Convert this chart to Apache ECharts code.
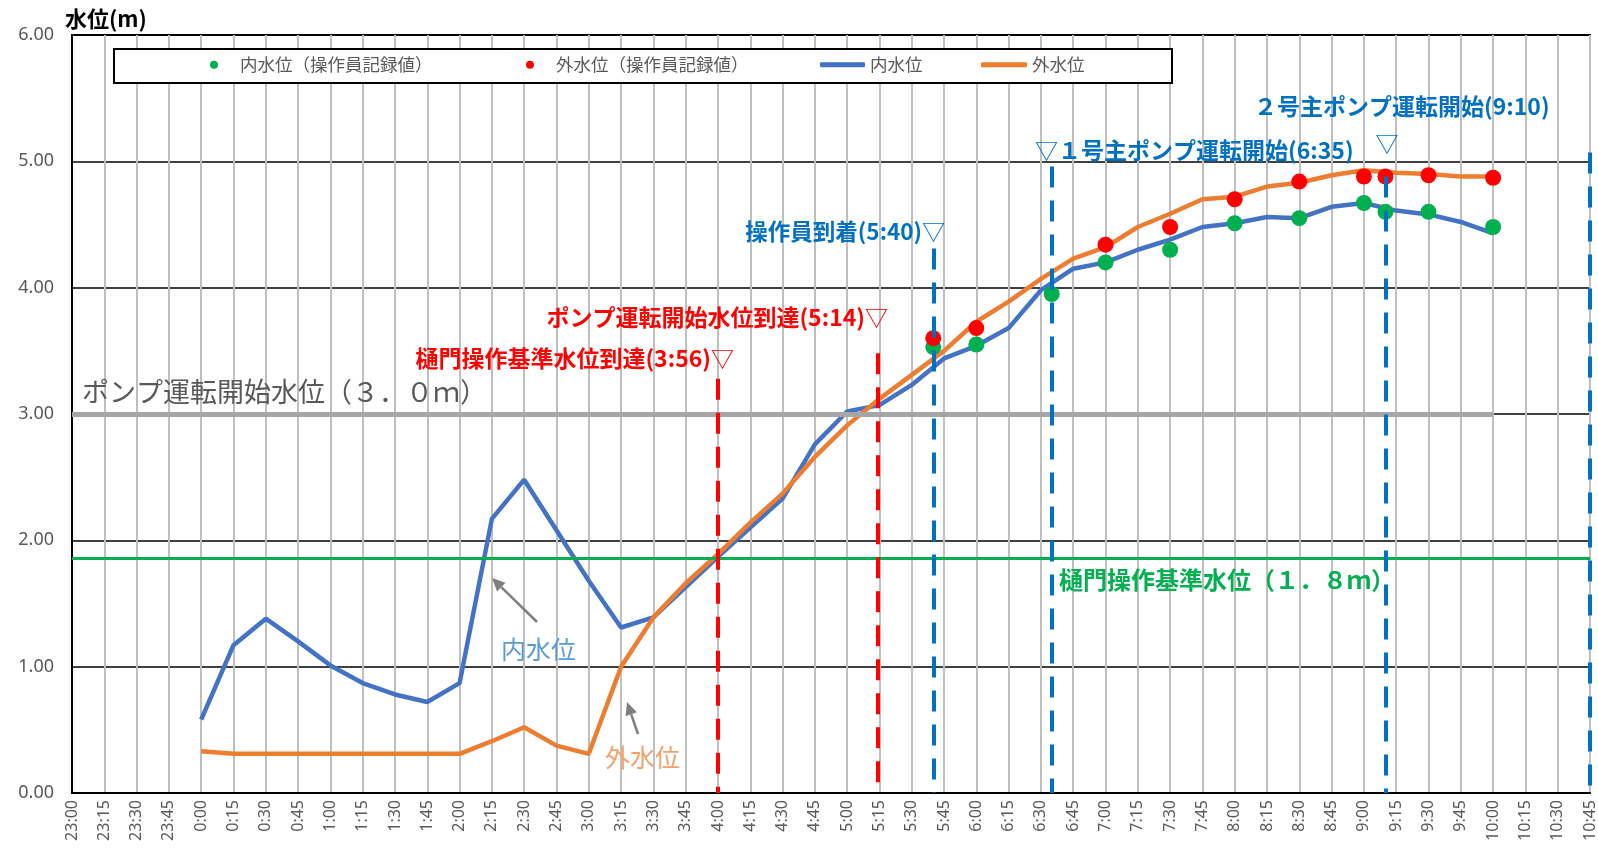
<!DOCTYPE html>
<html>
<head>
<meta charset="utf-8">
<script src="https://cdn.jsdelivr.net/npm/echarts@6/dist/echarts.min.js"></script>
<style>
html,body{margin:0;padding:0;background:#fff;}
#c{width:1598px;height:849px;}
</style>
</head>
<body>
<div id="c"></div>
<script>
// ---- data ----
const timeLabels = ['23:00','23:15','23:30','23:45','0:00','0:15','0:30','0:45','1:00','1:15','1:30','1:45','2:00','2:15','2:30','2:45','3:00','3:15','3:30','3:45','4:00','4:15','4:30','4:45','5:00','5:15','5:30','5:45','6:00','6:15','6:30','6:45','7:00','7:15','7:30','7:45','8:00','8:15','8:30','8:45','9:00','9:15','9:30','9:45','10:00','10:15','10:30','10:45'];
const lineTimes = ['0:00','0:15','0:30','0:45','1:00','1:15','1:30','1:45','2:00','2:15','2:30','2:45','3:00','3:15','3:30','3:45','4:00','4:15','4:30','4:45','5:00','5:15','5:30','5:45','6:00','6:15','6:30','6:45','7:00','7:15','7:30','7:45','8:00','8:15','8:30','8:45','9:00','9:15','9:30','9:45','10:00'];
const innerLevel = [0.58,1.17,1.38,1.20,1.01,0.87,0.78,0.72,0.87,2.17,2.48,2.08,1.68,1.31,1.39,1.63,1.87,2.10,2.33,2.76,3.02,3.07,3.23,3.44,3.54,3.68,3.98,4.15,4.20,4.30,4.38,4.48,4.51,4.56,4.55,4.64,4.67,4.61,4.58,4.52,4.43];
const outerLevel = [0.33,0.31,0.31,0.31,0.31,0.31,0.31,0.31,0.31,0.41,0.52,0.375,0.31,1.00,1.39,1.66,1.89,2.14,2.37,2.66,2.91,3.12,3.31,3.50,3.73,3.89,4.07,4.23,4.32,4.48,4.585,4.70,4.72,4.80,4.83,4.89,4.93,4.91,4.90,4.88,4.88];
const innerRecTimes = ['5:40','6:00','6:35','7:00','7:30','8:00','8:30','9:00','9:10','9:30','10:00'];
const innerRec = [3.53,3.55,3.95,4.20,4.30,4.51,4.55,4.67,4.60,4.60,4.48];
const outerRecTimes = ['5:40','6:00','7:00','7:30','8:00','8:30','9:00','9:10','9:30','10:00'];
const outerRec = [3.60,3.68,4.34,4.48,4.70,4.84,4.88,4.88,4.89,4.87];
const eventTimes = ['4:00','5:14','5:40','6:35','9:10','10:45'];
const eventTops = [3.28,3.48,4.31,4.96,4.88,5.07];
const eventKinds = ['red','red','blue','blue','blue','blue'];
const pumpStartLevel = 3.0;   // drawn to 10:00
const pumpStartEnd = '10:00';
const gateLevel = 1.86;

// ---- helpers ----
function minutesOf(label){ const p = label.split(':').map(Number); return ((p[0] + 1) % 24) * 60 + p[1]; }
const xMax = minutesOf(timeLabels[timeLabels.length - 1]);
const JP = '"Noto Sans CJK JP", "Noto Sans", sans-serif';
const labelGray = '#595959';

const chart = echarts.init(document.getElementById('c'), null, {renderer:'canvas'});

const evColors = {red:'#FF0000', blue:'#0070C0'};
const vLines = eventTimes.map((t,i)=>[
  {coord:[minutesOf(t), eventTops[i]], lineStyle:{color:evColors[eventKinds[i]]}},
  {coord:[minutesOf(t), 0]}
]);

function arrow(x1,y1,x2,y2,color){
  const a = Math.atan2(y2-y1, x2-x1), L = 13, W = 6;
  const bx = x2 - L*Math.cos(a), by = y2 - L*Math.sin(a);
  const px = -Math.sin(a)*W, py = Math.cos(a)*W;
  return [
    {type:'line', z:20, shape:{x1:x1,y1:y1,x2:bx,y2:by}, style:{stroke:color, lineWidth:2.5}},
    {type:'polygon', z:20, shape:{points:[[x2,y2],[bx+px,by+py],[bx-px,by-py]]}, style:{fill:color}}
  ];
}
function txt(text, x, y, align, color, size, bold, rich){
  const o = {type:'text', z:20, x:x, y:y, style:{text:text, align:align, verticalAlign:'middle', fill:color,
    font:(bold?'bold ':'') + size + 'px ' + JP}};
  if (rich) o.style.rich = rich;
  return o;
}
const triRich = (color,size,bsize)=>({t:{fill:color, font:size+'px '+JP}, b:{fill:color, font:'bold '+bsize+'px '+JP}});

const legendText = {color:labelGray, fontSize:17.5, fontFamily:JP};
const legendBase = {top:56, padding:0, selectedMode:false, textStyle:legendText, z:12};
const option = {
  backgroundColor:'#fff',
  animation:false,
  grid:{left:72, right:8, top:35, bottom:56, show:true, borderColor:'#000', borderWidth:2, containLabel:false},
  xAxis:{type:'value', min:0, max:xMax, interval:15,
    axisLine:{show:true, lineStyle:{color:'#000', width:2}}, axisTick:{show:false},
    axisLabel:{rotate:90, margin:7, color:labelGray, fontSize:16, fontFamily:'"Noto Sans", sans-serif',
      formatter:v=>timeLabels[Math.round(v/15)] || ''},
    splitLine:{show:true, lineStyle:{color:'#BFBFBF', width:2}}},
  yAxis:{type:'value', min:0, max:6, interval:1,
    axisLine:{show:true, lineStyle:{color:'#000', width:2}}, axisTick:{show:false},
    axisLabel:{margin:18, color:labelGray, fontSize:18, fontFamily:'"Noto Sans", sans-serif', formatter:v=>v.toFixed(2)},
    splitLine:{show:true, lineStyle:{color:'#000', width:1.5}}},
  legend:[
    Object.assign({data:['内水位（操作員記録値）'], left:210, itemWidth:42, itemHeight:8}, legendBase),
    Object.assign({data:['外水位（操作員記録値）'], left:526, itemWidth:42, itemHeight:8}, legendBase),
    Object.assign({data:[{name:'内水位', icon:'roundRect'}], left:820, itemWidth:45, itemHeight:5}, legendBase),
    Object.assign({data:[{name:'外水位', icon:'roundRect'}], left:981, itemWidth:46, itemHeight:5}, legendBase)
  ],
  series:[
    {name:'refLines', type:'line', data:[], z:2, silent:true,
      markLine:{silent:true, symbol:['none','none'], label:{show:false},
        data:[
          [{coord:[0, pumpStartLevel], lineStyle:{color:'#A6A6A6', width:5, type:'solid'}},{coord:[minutesOf(pumpStartEnd), pumpStartLevel]}],
          [{coord:[0, gateLevel], lineStyle:{color:'#00B050', width:3, type:'solid'}},{coord:[xMax, gateLevel]}]
        ]}},
    {name:'内水位', type:'line', z:3, symbol:'none', showSymbol:false,
      data:lineTimes.map((t,i)=>[minutesOf(t), innerLevel[i]]),
      lineStyle:{color:'#4472C4', width:4.5}, itemStyle:{color:'#4472C4'}},
    {name:'外水位', type:'line', z:3, symbol:'none', showSymbol:false,
      data:lineTimes.map((t,i)=>[minutesOf(t), outerLevel[i]]),
      lineStyle:{color:'#ED7D31', width:4.5}, itemStyle:{color:'#ED7D31'}},
    {name:'内水位（操作員記録値）', type:'scatter', z:4, symbolSize:16,
      data:innerRecTimes.map((t,i)=>[minutesOf(t), innerRec[i]]), itemStyle:{color:'#00B050', opacity:1}},
    {name:'外水位（操作員記録値）', type:'scatter', z:4, symbolSize:16,
      data:outerRecTimes.map((t,i)=>[minutesOf(t), outerRec[i]]), itemStyle:{color:'#FF0000', opacity:1}},
    {name:'events', type:'line', data:[], z:6, silent:true,
      markLine:{silent:true, symbol:['none','none'], label:{show:false},
        lineStyle:{width:4, type:[21,13]}, data:vLines}}
  ],
  graphic:[
    {type:'rect', z:8, shape:{x:114, y:49, width:1058, height:34}, style:{fill:'#fff', stroke:'#000', lineWidth:2}},
    txt('水位(m)', 65, 19, 'left', '#000', 22, true),
    txt('ポンプ運転開始水位（３．０ｍ）', 82, 392, 'left', labelGray, 27, false),
    txt('{b|樋門操作基準水位到達(3:56)}{t|▽}', 734, 358, 'right', '#FF0000', 23, true, triRich('#FF0000',23,23)),
    txt('{b|ポンプ運転開始水位到達(5:14)}{t|▽}', 888, 317, 'right', '#FF0000', 23, true, triRich('#FF0000',23,23)),
    txt('{b|操作員到着(5:40)}{t|▽}', 945, 231, 'right', '#0070C0', 22.5, true, triRich('#0070C0',23,22.5)),
    txt('{t|▽}{b|１号主ポンプ運転開始(6:35)}', 1035, 150, 'left', '#0070C0', 23, true, triRich('#0070C0',23,23)),
    txt('{b|２号主ポンプ運転開始(9:10)}', 1254, 106, 'left', '#0070C0', 23, true, triRich('#0070C0',23,23)),
    txt('▽', 1387, 143, 'center', '#0070C0', 23, false),
    txt('樋門操作基準水位（１．８ｍ）', 1059, 580, 'left', '#00B050', 24, true),
    txt('内水位', 501, 649, 'left', '#5B9BD5', 25, false),
    txt('外水位', 605, 757, 'left', '#F4A06A', 25, false)
  ].concat(arrow(537,622,492,578,'#7F7F7F'), arrow(638,734,627,702,'#7F7F7F'))
};
chart.setOption(option);
</script>
</body>
</html>
